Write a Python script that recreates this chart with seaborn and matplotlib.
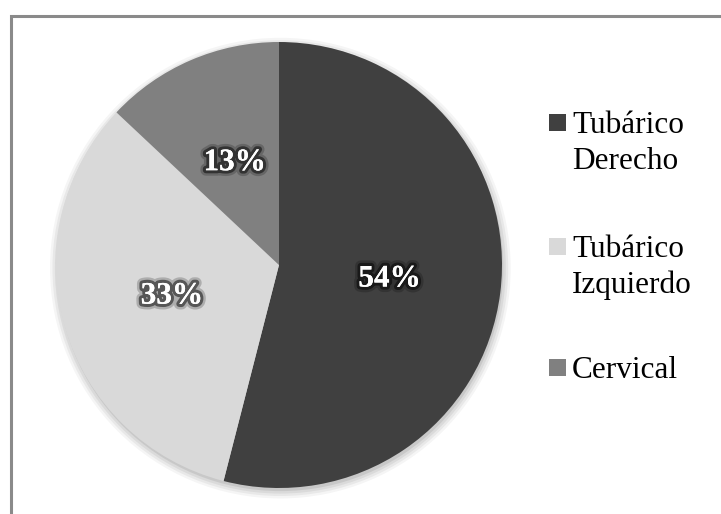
import matplotlib
matplotlib.use("Agg")
import matplotlib.pyplot as plt
import matplotlib.patheffects as pe
from matplotlib.patches import Rectangle, Circle
import seaborn as sns

categories = ["Tubárico\nDerecho", "Tubárico\nIzquierdo", "Cervical"]
values = [54, 33, 13]
colors = ["#404040", "#d9d9d9", "#808080"]

sns.set_theme(style="white")
plt.rcParams["font.family"] = ["Liberation Serif", "DejaVu Serif"]

W, H = 721, 514
fig = plt.figure(figsize=(W / 100, H / 100), dpi=100)
fig.patch.set_facecolor("white")

def fx(px):
    return px / W

def fy(py):
    return 1 - py / H

# outer frame (cut off at right and bottom)
frame = Rectangle((fx(11), fy(H + 10)), fx(W + 20 - 11), (H + 10 - 16) / H,
                  transform=fig.transFigure, fill=False, edgecolor="#8a8a8a",
                  linewidth=2.2, zorder=0)
fig.patches.append(frame)

cx, cy, r = 279, 265, 223
ax = fig.add_axes([fx(cx - r), fy(cy + r), 2 * r / W, 2 * r / H])
ax.axis("off")

# soft shadow
for i, a in enumerate([0.04, 0.05, 0.06, 0.08]):
    c = Circle((0.006, -0.014), 1.0 + 0.011 * (3 - i), color="black",
               alpha=a, zorder=0, linewidth=0)
    c.set_clip_on(False)
    ax.add_patch(c)

wedges, texts, autotexts = ax.pie(
    values, colors=colors, startangle=90, counterclock=False, radius=1,
    autopct="%d%%", pctdistance=0.5,
    wedgeprops=dict(linewidth=0),
    textprops=dict(color="white", fontsize=22.5, fontweight="bold",
                   family=["Liberation Serif", "DejaVu Serif"]))
ax.set_xlim(-1, 1)
ax.set_ylim(-1, 1)
ax.set_aspect("equal")
ax.axis("off")
for w in wedges:
    w.set_zorder(2)
    w.set_clip_on(False)
for t in autotexts:
    t.set_zorder(5)
    t.set_path_effects([
        pe.withStroke(linewidth=8, foreground="black", alpha=0.2),
        pe.withStroke(linewidth=4.5, foreground="black", alpha=0.5),
        pe.Normal(),
    ])

# legend drawn manually
leg_first_baselines = [133, 257, 378]
line_step = 36
for lab, col, b in zip(categories, colors, leg_first_baselines):
    sq = Rectangle((fx(549), fy(b - 2)), 17 / W, 17 / H,
                   transform=fig.transFigure, facecolor=col, edgecolor="none")
    fig.patches.append(sq)
    for k, line in enumerate(lab.split("\n")):
        fig.text(fx(572), fy(b + k * line_step), line, fontsize=22.5,
                 color="black", va="baseline", ha="left",
                 family=["Liberation Serif", "DejaVu Serif"])

fig.savefig("out.png", dpi=100, facecolor="white")
